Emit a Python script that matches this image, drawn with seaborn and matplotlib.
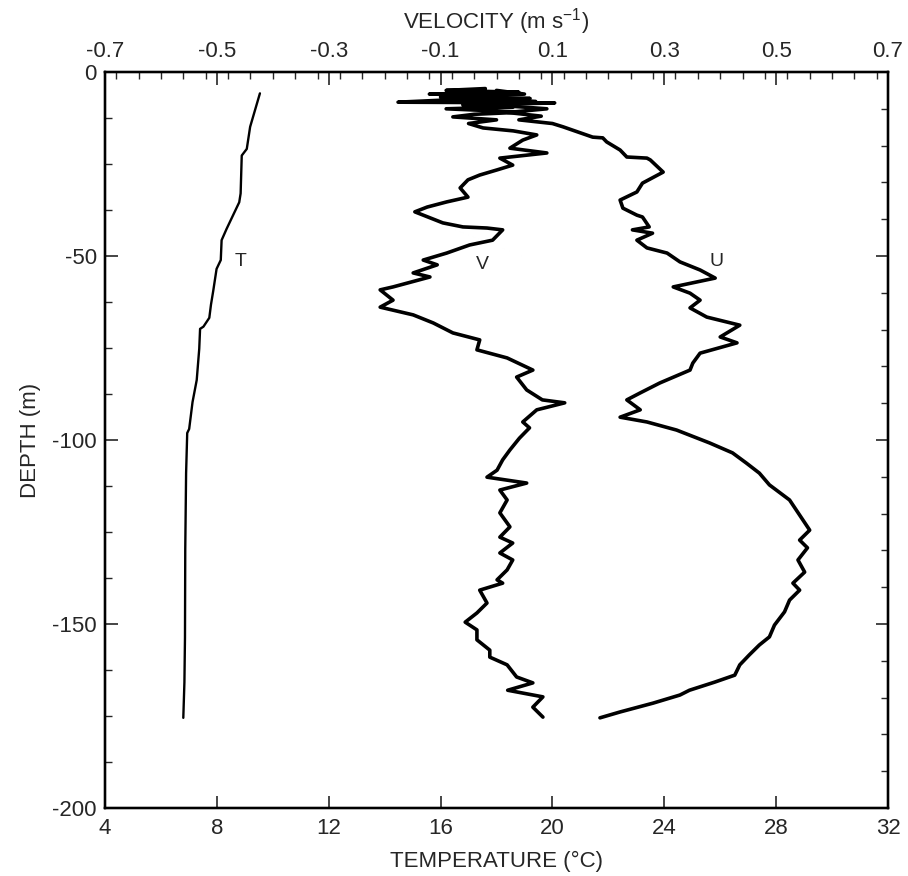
import matplotlib
matplotlib.use("Agg")
import matplotlib.pyplot as plt
import seaborn as sns
import pandas as pd
from matplotlib.ticker import MultipleLocator

# ---------------- data ----------------
# Temperature profile (degC) vs depth (m)
t_depth = [-5.8, -14.9, -20.9, -22.7, -33.0, -35.4, -37.8, -42.6, -45.7, -51.1, -53.5,
           -59.5, -63.2, -66.8, -69.2, -69.8, -75.2, -83.7, -89.7, -97.0, -98.1, -109.0,
           -129.6, -153.7, -165.8, -175.5]
t_temp = [9.54, 9.19, 9.07, 8.89, 8.85, 8.80, 8.65, 8.35, 8.17, 8.14, 7.99,
          7.87, 7.79, 7.73, 7.52, 7.40, 7.37, 7.28, 7.13, 7.01, 6.94, 6.90,
          6.87, 6.86, 6.84, 6.80]

# V velocity component (m/s) vs depth (m)
v_depth = [-4.5, -5.0, -5.5, -6.0, -6.3, -6.8, -7.2, -7.6, -8.2, -8.4, -9.0, -9.5, -10.0,
           -10.9, -11.5, -12.2, -13.0, -14.0, -15.2, -16.0, -17.1, -18.5, -20.7, -22.0,
           -23.4, -25.3, -26.6, -28.0, -29.3, -31.5, -34.0, -35.3, -36.7, -38.0, -38.9,
           -41.0, -42.1, -42.4, -42.9, -45.7, -47.0, -49.2, -51.1, -52.4, -54.6, -55.7,
           -58.4, -59.2, -62.0, -63.9, -66.0, -68.2, -70.9, -72.8, -75.5, -77.7, -81.0,
           -82.9, -86.4, -89.1, -89.9, -91.8, -95.1, -96.7, -99.5, -102.7, -105.4, -108.2,
           -110.1, -111.7, -113.6, -116.3, -119.8, -123.6, -126.4, -128.0, -130.7, -132.6,
           -135.3, -138.0, -138.9, -140.8, -144.3, -147.0, -149.5, -151.6, -154.3, -157.1,
           -159.0, -161.1, -164.4, -166.0, -168.0, -169.8, -172.6, -175.3]
v_vel = [-0.02, -0.09, 0.04, -0.12, 0.00, -0.10, 0.06, -0.089, -0.176, 0.104, -0.06, 0.03, -0.09,
         0.047, -0.04, -0.078, 0.00, -0.05, -0.024, 0.03, 0.072, 0.047, 0.024, 0.090,
         0.006, 0.029, 0.001, -0.030, -0.051, -0.065, -0.051, -0.089, -0.124, -0.146, -0.131,
         -0.096, -0.060, -0.017, 0.011, -0.007, -0.048, -0.089, -0.131, -0.106, -0.149, -0.119,
         -0.185, -0.208, -0.185, -0.208, -0.149, -0.113, -0.078, -0.030, -0.035, 0.019, 0.065,
         0.036, 0.054, 0.082, 0.122, 0.072, 0.047, 0.059, 0.041, 0.024, 0.011, 0.001,
         -0.017, 0.054, 0.006, 0.019, 0.006, 0.024, 0.006, 0.029, 0.006, 0.029,
         0.019, 0.001, 0.011, -0.030, -0.017, -0.035, -0.056, -0.035, -0.035, -0.012,
         -0.012, 0.019, 0.036, 0.065, 0.020, 0.083, 0.065, 0.083]

# U velocity component (m/s) vs depth (m)
u_depth = [-5.0, -6.0, -7.0, -8.0, -9.0, -10.0, -11.0, -12.0, -13.0, -14.0, -14.9, -17.7,
           -17.9, -19.0, -21.2, -23.1, -23.4, -23.9, -27.2, -30.2, -32.6, -34.8, -37.0,
           -38.9, -39.4, -42.1, -42.9, -43.8, -45.7, -47.8, -49.2, -51.6, -53.8, -56.0,
           -58.4, -60.1, -62.0, -64.1, -66.6, -68.8, -72.0, -73.6, -76.4, -79.1, -81.0,
           -84.5, -87.2, -89.1, -91.8, -93.8, -95.1, -97.3, -100.8, -103.5, -106.3, -109.0,
           -112.2, -116.3, -120.4, -124.5, -127.2, -129.3, -132.6, -135.9, -138.9, -140.8,
           -143.5, -146.7, -150.3, -153.5, -155.7, -158.4, -161.1, -163.9, -165.8, -168.0,
           -169.3, -171.5, -173.9, -175.5]
u_vel = [0.00, 0.05, -0.05, 0.07, 0.00, 0.09, 0.02, 0.08, 0.04, 0.10, 0.119, 0.172,
         0.190, 0.197, 0.221, 0.233, 0.269, 0.275, 0.298, 0.261, 0.251, 0.221, 0.226,
         0.251, 0.261, 0.273, 0.243, 0.279, 0.251, 0.269, 0.305, 0.328, 0.364, 0.391,
         0.316, 0.346, 0.364, 0.346, 0.376, 0.435, 0.400, 0.430, 0.364, 0.351, 0.346,
         0.292, 0.257, 0.233, 0.257, 0.221, 0.269, 0.322, 0.381, 0.422, 0.447, 0.470,
         0.488, 0.524, 0.542, 0.560, 0.542, 0.556, 0.539, 0.551, 0.530, 0.542,
         0.524, 0.515, 0.497, 0.488, 0.470, 0.452, 0.435, 0.426, 0.390, 0.345,
         0.328, 0.280, 0.221, 0.185]

temp_ticks = [4, 8, 12, 16, 20, 24, 28, 32]
vel_ticks = [-0.7, -0.5, -0.3, -0.1, 0.1, 0.3, 0.5, 0.7]
depth_ticks = [0, -50, -100, -150, -200]

# ---------------- style ----------------
sns.set_style("white")
plt.rcParams['font.family'] = ['Liberation Sans', 'DejaVu Sans']
plt.rcParams['axes.unicode_minus'] = False
plt.rcParams['mathtext.default'] = 'regular'

FS = 16

fig = plt.figure(figsize=(9.08, 8.76), dpi=100)
ax = fig.add_axes([105/908, 1-808/876, (888-105)/908, (808-72)/876])

df_t = pd.DataFrame({"temp": t_temp, "depth": t_depth})
df_v = pd.DataFrame({"vel": v_vel, "depth": v_depth})
df_u = pd.DataFrame({"vel": u_vel, "depth": u_depth})

sns.lineplot(data=df_t, x="temp", y="depth", sort=False, estimator=None,
             color="black", linewidth=1.7, ax=ax)
ax.set_xlim(4, 32)
ax.set_ylim(-200, 0)

ax2 = ax.twiny()
sns.lineplot(data=df_v, x="vel", y="depth", sort=False, estimator=None,
             color="black", linewidth=2.6, ax=ax2)
sns.lineplot(data=df_u, x="vel", y="depth", sort=False, estimator=None,
             color="black", linewidth=2.6, ax=ax2)
ax2.set_xlim(-0.7, 0.7)
ax2.set_ylim(-200, 0)

ax3 = ax.twinx()
ax3.set_ylim(-200, 0)

# bottom / left axis
ax.set_xticks(temp_ticks)
ax.set_xticklabels([str(t) for t in temp_ticks])
ax.set_yticks(depth_ticks)
ax.set_yticklabels([str(d) for d in depth_ticks])
ax.yaxis.set_minor_locator(MultipleLocator(12.5))
ax.tick_params(axis='x', which='major', direction='in', length=9, width=1.2,
               labelsize=FS, pad=7, top=False)
ax.tick_params(axis='y', which='major', direction='in', length=9, width=1.2,
               labelsize=FS, pad=6, right=False)
ax.tick_params(axis='y', which='minor', direction='in', length=5, width=1.0, right=False)
ax.set_xlabel("TEMPERATURE (°C)", fontsize=FS, labelpad=9)
ax.set_ylabel("DEPTH (m)", fontsize=FS, labelpad=8)

# top axis
ax2.set_xticks(vel_ticks)
ax2.set_xticklabels([f"{v:.1f}" for v in vel_ticks])
ax2.xaxis.set_minor_locator(MultipleLocator(0.04))
ax2.tick_params(axis='x', which='major', direction='in', length=9, width=1.2,
                labelsize=FS, pad=7)
ax2.tick_params(axis='x', which='minor', direction='in', length=5, width=1.0)
ax2.set_xlabel("VELOCITY (m s$^{-1}$)", fontsize=FS, labelpad=9)
ax2.set_ylabel("")

# right axis
ax3.set_yticks(depth_ticks)
ax3.yaxis.set_minor_locator(MultipleLocator(10))
ax3.set_yticklabels([])
ax3.tick_params(axis='y', which='major', direction='in', length=9, width=1.2)
ax3.tick_params(axis='y', which='minor', direction='in', length=5, width=1.0)

for a in (ax, ax2, ax3):
    for s in a.spines.values():
        s.set_color("black")
        s.set_linewidth(1.6)

# curve labels
ax.text(8.83, -51.6, "T", fontsize=14, ha="center", va="center")
ax2.text(-0.026, -52.4, "V", fontsize=14, ha="center", va="center")
ax2.text(0.394, -51.6, "U", fontsize=14, ha="center", va="center")

fig.savefig("out.png", dpi=100)
